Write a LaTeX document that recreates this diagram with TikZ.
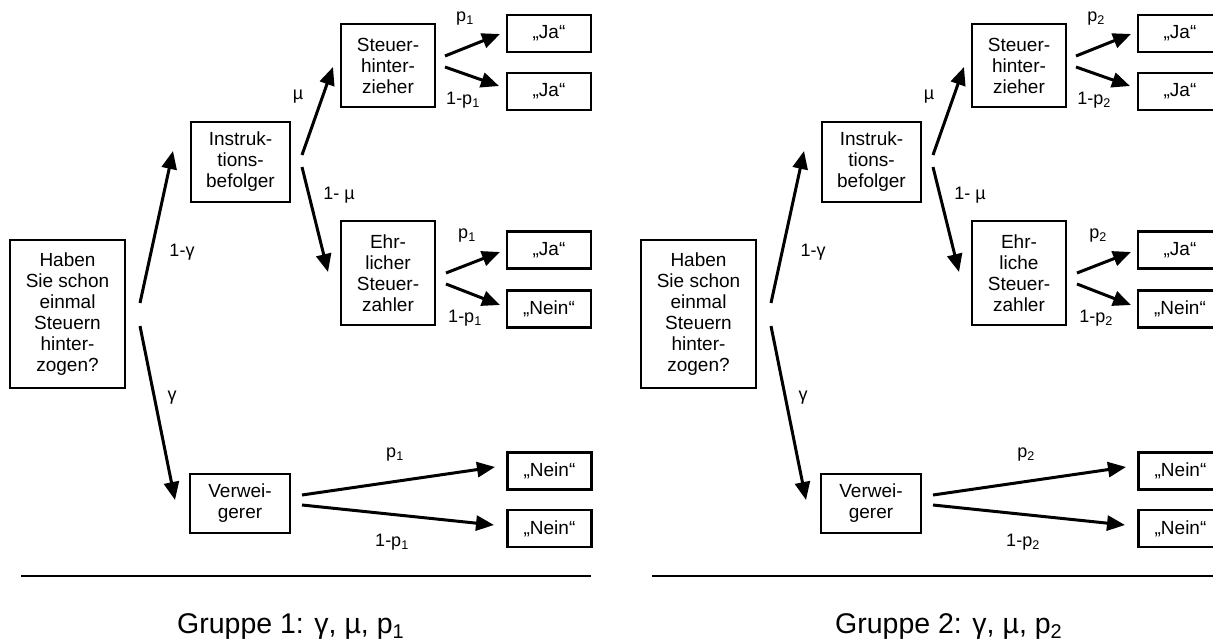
\documentclass[tikz,border=0pt]{standalone}
\usepackage{fontspec}
\setmainfont{Liberation Sans}
\usetikzlibrary{arrows.meta}
\newcommand\nodefs{\fontsize{19}{21}\selectfont}
\newcommand\lblfs{\fontsize{18}{20}\selectfont}
\newcommand\grpfs{\fontsize{28.5}{32}\selectfont}
\tikzset{
  box/.style={draw, line width=2.8pt, align=center, inner sep=0pt, font=\nodefs},
  outbox/.style={box, minimum width=84pt, minimum height=37pt},
  arr/.style={line width=3pt, -{Triangle[length=18pt,width=15pt]}},
  lbl/.style={font=\lblfs, inner sep=0pt},
}
\newcommand\drawtree[3]{%
  \node[box, minimum width=115pt, minimum height=148pt] (root#1) at (67.5,314) {Haben\\Sie schon\\einmal\\Steuern\\hinter-\\zogen?};
  \node[box, minimum width=99pt, minimum height=80pt] (instr#1) at (240.5,162) {Instruk-\\tions-\\befolger};
  \node[box, minimum width=94pt, minimum height=83pt] (steuer#1) at (388,65.5) {Steuer-\\hinter-\\zieher};
  \node[box, minimum width=94pt, minimum height=104pt] (ehrl#1) at (388,273) {Ehr-\\#3\\Steuer-\\zahler};
  \node[box, minimum width=100pt, minimum height=59pt] (verw#1) at (240,503.5) {Verwei-\\gerer};
  \node[outbox] (jaA#1) at (549,33.5) {„Ja“};
  \node[outbox] (jaB#1) at (549,91.5) {„Ja“};
  \node[outbox] (jaC#1) at (549,250) {„Ja“};
  \node[outbox] (neinA#1) at (549,309) {„Nein“};
  \node[outbox] (neinB#1) at (549.5,471) {„Nein“};
  \node[outbox] (neinC#1) at (549.5,528.5) {„Nein“};
  % connector end points
  \coordinate (s1#1) at (140,303); \coordinate (t1#1) at (173,151);
  \coordinate (s2#1) at (140,326); \coordinate (t2#1) at (175,500);
  \coordinate (s3#1) at (302,155); \coordinate (t3#1) at (333,67);
  \coordinate (s4#1) at (302,167); \coordinate (t4#1) at (328,272);
  \coordinate (s5#1) at (445,56);  \coordinate (t5#1) at (500,34);
  \coordinate (s6#1) at (445,67);  \coordinate (t6#1) at (499,86);
  \coordinate (s7#1) at (446,273); \coordinate (t7#1) at (500,252);
  \coordinate (s8#1) at (446,284); \coordinate (t8#1) at (500,305);
  \coordinate (s9#1) at (302,495); \coordinate (t9#1) at (495,467);
  \coordinate (s10#1) at (302,505); \coordinate (t10#1) at (494,525);
  \foreach \i in {1,...,10} {\draw[arr] (s\i#1) -- (t\i#1);}
  % labels
  \node[lbl] (l1#1) at (182,252) {1-γ};
  \node[lbl] (l2#1) at (172,398) {γ};
  \node[lbl] (l3#1) at (298,97) {µ};
  \node[lbl] (l4#1) at (339,195) {1- µ};
  \node[lbl] (l5#1) at (465,19) {p\textsubscript{#2}};
  \node[lbl] (l6#1) at (463,100) {1-p\textsubscript{#2}};
  \node[lbl] (l7#1) at (467,236) {p\textsubscript{#2}};
  \node[lbl] (l8#1) at (465,318) {1-p\textsubscript{#2}};
  \node[lbl] (l9#1) at (395,455) {p\textsubscript{#2}};
  \node[lbl] (l10#1) at (392,542) {1-p\textsubscript{#2}};
}
\begin{document}
\begin{tikzpicture}[x=1pt,y=-1pt]
  \path[use as bounding box] (0,0) rectangle (1213,644);
  \clip (0,0) rectangle (1213,644);
  \drawtree{A}{1}{licher}
  \begin{scope}[xshift=631pt]
    \drawtree{B}{2}{liche}
  \end{scope}
  \draw[line width=2.8pt] (21,576) -- (591,576);
  \draw[line width=2.8pt] (652,576) -- (1213,576);
  \node[font=\grpfs, anchor=base west, inner sep=0pt] (g1) at (177,633) {Gruppe 1: γ, µ, p\textsubscript{1}};
  \node[font=\grpfs, anchor=base west, inner sep=0pt] (g2) at (835,633) {Gruppe 2: γ, µ, p\textsubscript{2}};
\end{tikzpicture}
\end{document}
